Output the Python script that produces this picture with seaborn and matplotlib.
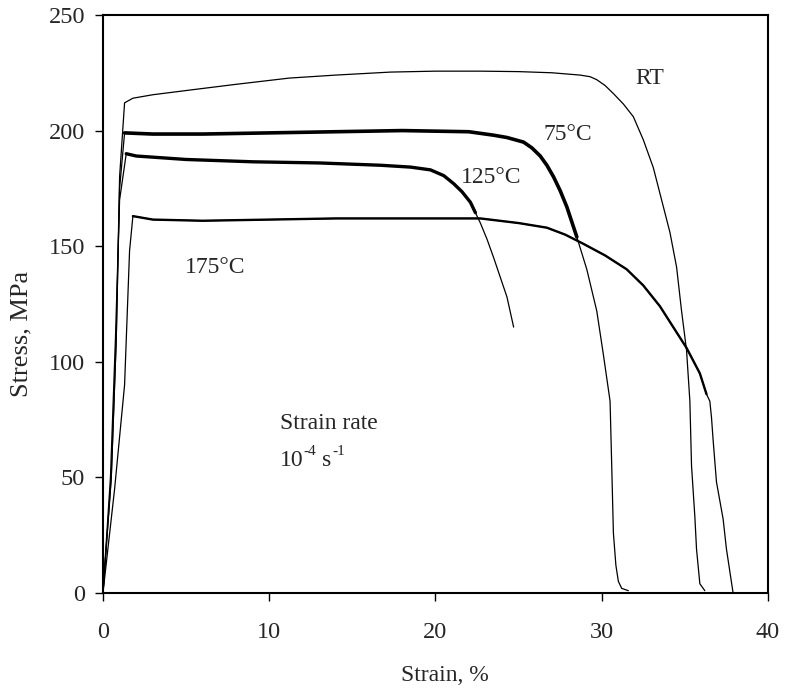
import numpy as np
import pandas as pd
import matplotlib
matplotlib.use("Agg")
import matplotlib.pyplot as plt
import seaborn as sns

# values (strain in %, stress in MPa)
rt_strain = [0, 0.5, 0.8, 1.0, 1.3, 1.8, 3, 5.2, 8, 11.2, 14, 17.3, 20, 22.7, 25, 27, 28.7,
             29.3, 29.7, 30.2, 30.7, 31.3, 31.9, 32.5, 33.1, 33.6, 34.1, 34.5, 34.8, 35.1, 35.3,
             35.4, 35.6, 35.7, 35.9, 36.2]
rt_stress = [0, 50, 110, 180, 212, 214, 215.5, 217.5, 220, 222.7, 224, 225.3, 225.7, 225.7, 225.5, 225, 224,
             223.3, 222, 219.5, 216, 211.5, 206, 196, 184, 170, 156, 141, 122, 105, 83,
             55, 33, 19, 4, 1]

c75_strain = [0, 0.5, 0.8, 1.0, 1.3, 3, 6, 10, 14, 18, 22, 23.5, 24.3, 25.3, 25.8, 26.3, 26.7,
              27.1, 27.5, 27.9, 28.5, 29.1, 29.7, 30.1, 30.5, 30.6, 30.7, 30.85, 31.0, 31.2, 31.6]
c75_stress = [0, 50, 110, 175, 199, 198.5, 198.5, 199, 199.5, 200, 199.5, 198, 197, 195, 192.5, 189, 185,
              180, 174, 167, 154, 140, 122, 103, 83, 55, 26, 12, 5, 2, 1]

c125_strain = [0, 0.45, 0.75, 1.0, 1.4, 2, 5, 9, 13, 16.7, 18.5, 19.7, 20.5, 21.1, 21.6, 22.1,
               22.4, 22.7, 23.1, 23.5, 23.9, 24.3, 24.7]
c125_stress = [0, 50, 110, 170, 190, 189, 187.5, 186.5, 186, 185, 184.2, 183, 180.5, 177, 173.5, 169,
               164.5, 160, 153, 145, 136.5, 128, 115]

c175_strain = [0, 0.7, 1.3, 1.6, 1.8, 3, 6, 10, 14, 18, 22.7, 25, 26.7, 27.8, 28.9, 30.2, 31.5,
               32.5, 33.5, 34.3, 35.1, 35.9, 36.3, 36.5, 36.6, 36.7, 36.9, 37.3, 37.5, 37.9]
c175_stress = [0, 45, 90, 148, 163, 161.5, 161, 161.5, 162, 162, 162, 160, 158, 155, 151, 146, 140,
               133, 124, 115, 106, 95, 86, 83, 76, 66, 48, 32, 19, 0]

curve_names = ["RT", "75°C", "125°C", "175°C"]
curve_strain = [rt_strain, c75_strain, c125_strain, c175_strain]
curve_stress = [rt_stress, c75_stress, c125_stress, c175_stress]

# label positions (strain, stress)
label_x = [32.0, 26.5, 21.5, 4.9]
label_y = [222.5, 198.5, 179.5, 140.6]

# the noisy plateau of the heated tests shows up as a thick band
band_range = {"RT": None, "75°C": (1.3, 28.6), "125°C": (1.4, 22.5), "175°C": (1.8, 36.3)}
band_width = {"RT": 1.0, "75°C": 2.6, "125°C": 2.4, "175°C": 1.7}

sns.set_style("ticks")
plt.rcParams["font.family"] = ["Liberation Serif", "DejaVu Serif"]

fig = plt.figure(figsize=(7.89, 6.93), dpi=100)
ax = fig.add_axes([0.1305, 0.1443, 0.8429, 0.8341])

for name, xs, ys in zip(curve_names, curve_strain, curve_stress):
    df = pd.DataFrame({"strain": xs, "stress": ys})
    sns.lineplot(data=df, x="strain", y="stress", sort=False, estimator=None,
                 color="black", lw=0.9, ax=ax)
    rng = band_range[name]
    if rng is not None:
        part = df[(df.strain >= rng[0]) & (df.strain <= rng[1])]
        sns.lineplot(data=part, x="strain", y="stress", sort=False, estimator=None,
                     color="black", lw=band_width[name], ax=ax)

for name, lx, ly in zip(curve_names, label_x, label_y):
    ax.text(lx, ly, name, fontsize=17, ha="left", va="center")

ax.text(10.65, 73.5, "Strain rate", fontsize=17, ha="left", va="center")
# 10^-4 s^-1 written with plain hyphens, superscripts as separate pieces
ax.annotate("10", (10.65, 57.5), fontsize=17, ha="left", va="center")
ax.annotate("-4", (10.65, 57.5), xytext=(17, 6), textcoords="offset points",
            fontsize=11, ha="left", va="center")
ax.annotate("s", (10.65, 57.5), xytext=(30, 0), textcoords="offset points",
            fontsize=17, ha="left", va="center")
ax.annotate("-1", (10.65, 57.5), xytext=(37.5, 6), textcoords="offset points",
            fontsize=11, ha="left", va="center")

ax.set_xlim(0, 40)
ax.set_ylim(0, 250)
ax.set_xticks([0, 10, 20, 30, 40])
ax.set_yticks([0, 50, 100, 150, 200, 250])
ax.tick_params(axis="both", direction="out", length=6, width=1.0, labelsize=17.5, color="black")
ax.tick_params(axis="x", pad=15)
ax.tick_params(axis="y", pad=7)
for s in ax.spines.values():
    s.set_linewidth(1.5)
    s.set_color("black")

ax.set_xlabel("Strain, %", fontsize=17, va="center")
ax.xaxis.set_label_coords(0.514, -0.142)
ax.set_ylabel("Stress, MPa", fontsize=19, va="center")
ax.yaxis.set_label_coords(-0.122, 0.448)

fig.savefig("out.png", dpi=100)
